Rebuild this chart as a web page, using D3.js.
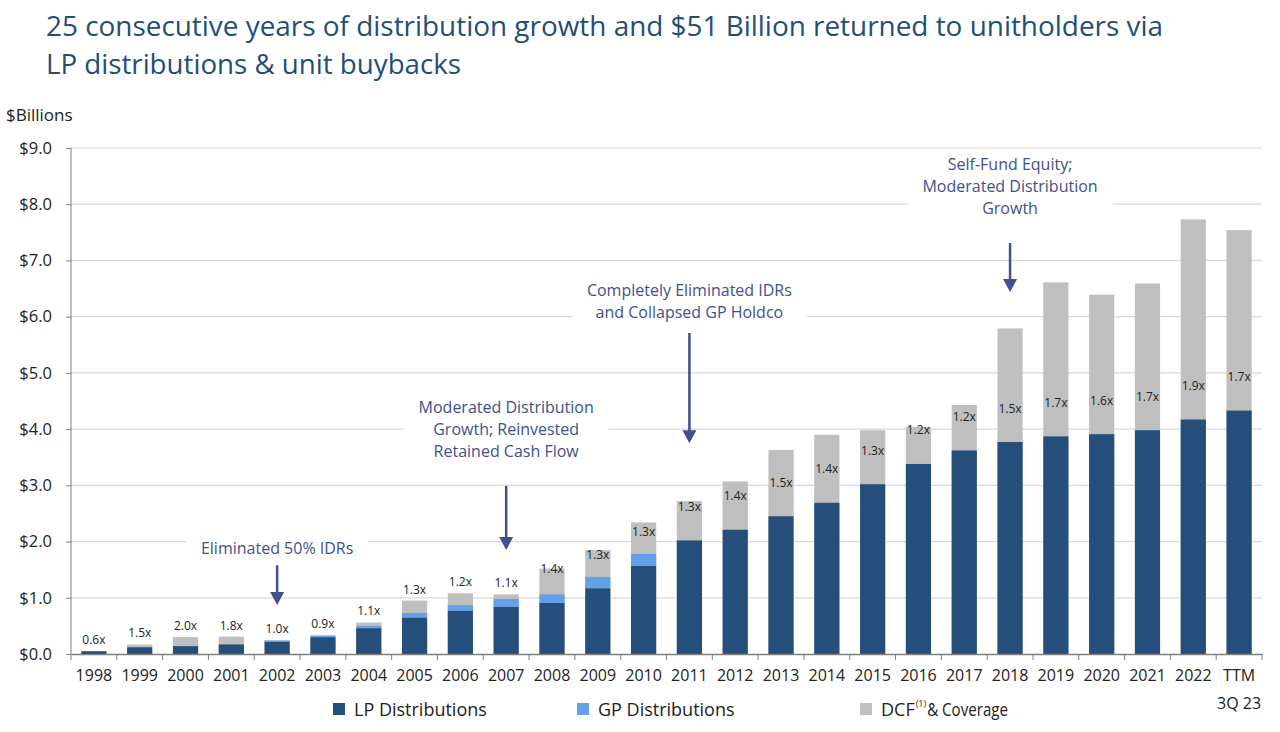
<!DOCTYPE html>
<html>
<head>
<meta charset="utf-8">
<script src="https://cdn.jsdelivr.net/npm/d3@7/dist/d3.min.js"></script>
<style>
  body { margin: 0; background: #fff; }
  text { font-family: "Open Sans", "Noto Sans", sans-serif; }
</style>
</head>
<body>
<div id="chart"></div>
<script>
// categories
var years = ["1998","1999","2000","2001","2002","2003","2004","2005","2006","2007","2008","2009","2010",
             "2011","2012","2013","2014","2015","2016","2017","2018","2019","2020","2021","2022","TTM"];
var yearSub = {"TTM": "3Q 23"};

// $ billions
var lpDist  = [0.05,0.12,0.14,0.17,0.22,0.30,0.46,0.65,0.77,0.84,0.91,1.17,1.57,
               2.02,2.21,2.45,2.69,3.02,3.38,3.62,3.77,3.87,3.91,3.98,4.17,4.33];
var gpDist  = [0,0,0,0,0.02,0.03,0.04,0.08,0.10,0.14,0.15,0.20,0.21,
               0,0,0,0,0,0,0,0,0,0,0,0,0];
var dcf     = [0.03,0.17,0.30,0.31,0.24,0.30,0.56,0.95,1.08,1.06,1.52,1.85,2.34,
               2.72,3.07,3.63,3.90,3.98,4.04,4.43,5.79,6.61,6.39,6.59,7.73,7.54];
var coverage = ["0.6x","1.5x","2.0x","1.8x","1.0x","0.9x","1.1x","1.3x","1.2x","1.1x","1.4x","1.3x","1.3x",
                "1.3x","1.4x","1.5x","1.4x","1.3x","1.2x","1.2x","1.5x","1.7x","1.6x","1.7x","1.9x","1.7x"];

var yTicks = [0,1,2,3,4,5,6,7,8,9];

// callouts: which year the arrow points at, text lines, arrow from/to in $B
var notes = [
  {year:"2002", lines:["Eliminated 50% IDRs"], textAt:1.88, from:1.58, to:0.87},
  {year:"2007", lines:["Moderated Distribution","Growth; Reinvested","Retained Cash Flow"], textAt:4.0, from:2.99, to:1.85},
  {year:"2011", lines:["Completely Eliminated IDRs","and Collapsed GP Holdco"], textAt:6.27, from:5.71, to:3.75},
  {year:"2018", lines:["Self-Fund Equity;","Moderated Distribution","Growth"], textAt:8.32, from:7.31, to:6.44}
];

var color = {lp:"#254F7A", gp:"#62A0EA", dcf:"#BFBFBF"};
var noteColor = "#41508A";

var rows = years.map(function(y,i){
  return {year:y, lp:lpDist[i], gp:gpDist[i], dcf:dcf[i], cov:coverage[i]};
});

var svg = d3.select("#chart").append("svg").attr("width",1280).attr("height",732);

// title
var title = svg.append("g").attr("fill","#1F4E79").style("font-size","27px");
title.append("text").attr("x",46).attr("y",36)
  .attr("textLength",1117).attr("lengthAdjust","spacingAndGlyphs")
  .text("25 consecutive years of distribution growth and $51 Billion returned to unitholders via");
title.append("text").attr("x",46).attr("y",74)
  .attr("textLength",415).attr("lengthAdjust","spacingAndGlyphs")
  .text("LP distributions & unit buybacks");

svg.append("text").attr("x",6).attr("y",121).style("font-size","17px").attr("fill","#222")
  .text("$Billions");

var x = d3.scaleBand().domain(years).range([71,1262]).paddingInner(0.45).paddingOuter(0.225);
var y = d3.scaleLinear().domain([0,9]).range([654,148]);

// gridlines
svg.append("g").selectAll("line").data(yTicks.slice(1)).join("line")
  .attr("x1",71).attr("x2",1262)
  .attr("y1",d=>y(d)).attr("y2",d=>y(d))
  .attr("stroke","#D9D9D9").attr("stroke-width",1.2);

// callout text + white box behind it (hides gridlines like the original)
var gap = 22;
var ng = svg.append("g");
notes.forEach(function(n){
  var cx = x(n.year) + x.bandwidth()/2;
  var g = ng.append("g");
  var box = g.append("rect").attr("fill","#fff");
  var top = y(n.textAt) - (n.lines.length-1)*gap/2;
  var t = g.append("text").attr("text-anchor","middle").attr("fill",noteColor).style("font-size","16px");
  n.lines.forEach(function(l,i){
    t.append("tspan").attr("x",cx).attr("y",top + i*gap).attr("dy","0.35em").text(l);
  });
  var bb = t.node().getBBox();
  box.attr("x",bb.x-15).attr("y",bb.y-2).attr("width",bb.width+30).attr("height",bb.height+4);
  g.append("line").attr("x1",cx).attr("x2",cx)
    .attr("y1",y(n.from)).attr("y2",y(n.to)-10)
    .attr("stroke",noteColor).attr("stroke-width",2.5);
  g.append("path")
    .attr("d","M"+(cx-7)+","+(y(n.to)-13)+"L"+(cx+7)+","+(y(n.to)-13)+"L"+cx+","+y(n.to)+"Z")
    .attr("fill",noteColor);
});

// bars: DCF behind, LP + GP stacked on top of each other
var bars = svg.append("g");
bars.selectAll(".dcf").data(rows).join("rect").attr("class","dcf")
  .attr("x",d=>x(d.year)).attr("width",x.bandwidth())
  .attr("y",d=>y(d.dcf)).attr("height",d=>y(0)-y(d.dcf))
  .attr("fill",color.dcf);
bars.selectAll(".lp").data(rows).join("rect").attr("class","lp")
  .attr("x",d=>x(d.year)).attr("width",x.bandwidth())
  .attr("y",d=>y(d.lp)).attr("height",d=>y(0)-y(d.lp))
  .attr("fill",color.lp);
bars.selectAll(".gp").data(rows.filter(d=>d.gp>0)).join("rect").attr("class","gp")
  .attr("x",d=>x(d.year)).attr("width",x.bandwidth())
  .attr("y",d=>y(d.lp+d.gp)).attr("height",d=>y(d.lp)-y(d.lp+d.gp))
  .attr("fill",color.gp);

// coverage labels
svg.append("g").selectAll("text").data(rows).join("text")
  .attr("x",d=>x(d.year)+x.bandwidth()/2)
  .attr("y",function(d){
    var top = Math.max(d.lp+d.gp, d.dcf);
    return y(Math.min(d.lp+0.6, top+0.2));
  })
  .attr("dy","0.35em").attr("text-anchor","middle")
  .style("font-size","12px").attr("fill","#222")
  .text(d=>d.cov);

// axes
var yAxis = svg.append("g").attr("transform","translate(71,0)")
  .call(d3.axisLeft(y).tickValues(yTicks).tickSize(5).tickPadding(14).tickFormat(d=>"$"+d.toFixed(1)));
yAxis.select(".domain").attr("stroke","#7F7F7F").attr("d","M0,654V148");
yAxis.selectAll(".tick line").attr("stroke","#7F7F7F");
yAxis.selectAll(".tick text").style("font-size","16.5px").attr("fill","#222")
  .style("font-family","'Open Sans', sans-serif");

var xAxis = svg.append("g").attr("transform","translate(0,654)")
  .call(d3.axisBottom(x).tickSize(0).tickPadding(16));
xAxis.select(".domain").attr("stroke","#7F7F7F").attr("stroke-width",1.5);
xAxis.selectAll(".tick text").style("font-size","16px").attr("fill","#222")
  .style("font-family","'Open Sans', sans-serif");
// second line under TTM as its own text
xAxis.selectAll(".tick").filter(d=>yearSub[d]).append("text")
  .attr("y",44).attr("dy","0.71em").attr("text-anchor","middle")
  .style("font-size","16px").attr("fill","#222")
  .text(d=>yearSub[d]);
// tick marks between categories
xAxis.append("g").selectAll("line").data(d3.range(years.length+1)).join("line")
  .attr("x1",i=>71+i*x.step()).attr("x2",i=>71+i*x.step())
  .attr("y1",0).attr("y2",6).attr("stroke","#7F7F7F");

// legend
var legend = [
  {key:"lp", label:"LP Distributions", x:333},
  {key:"gp", label:"GP Distributions", x:577},
  {key:"dcf", label:"DCF", x:860}
];
var lg = svg.append("g").attr("fill","#222");
legend.forEach(function(l){
  lg.append("rect").attr("x",l.x).attr("y",703).attr("width",12).attr("height",12).attr("fill",color[l.key]);
  var t = lg.append("text").attr("x",l.x+21).attr("y",716).style("font-size","18px").text(l.label);
  if (l.key=="dcf") {
    var x1 = l.x + 21 + t.node().getComputedTextLength() + 1;
    var sup = lg.append("text").attr("x",x1).attr("y",707).style("font-size","9px").text("(1)");
    var x2 = x1 + sup.node().getComputedTextLength() + 1;
    lg.append("text").attr("x",x2).attr("y",716).style("font-size","18px")
      .attr("textLength",1008-x2).attr("lengthAdjust","spacingAndGlyphs")
      .text("& Coverage");
  }
});
</script>
</body>
</html>
